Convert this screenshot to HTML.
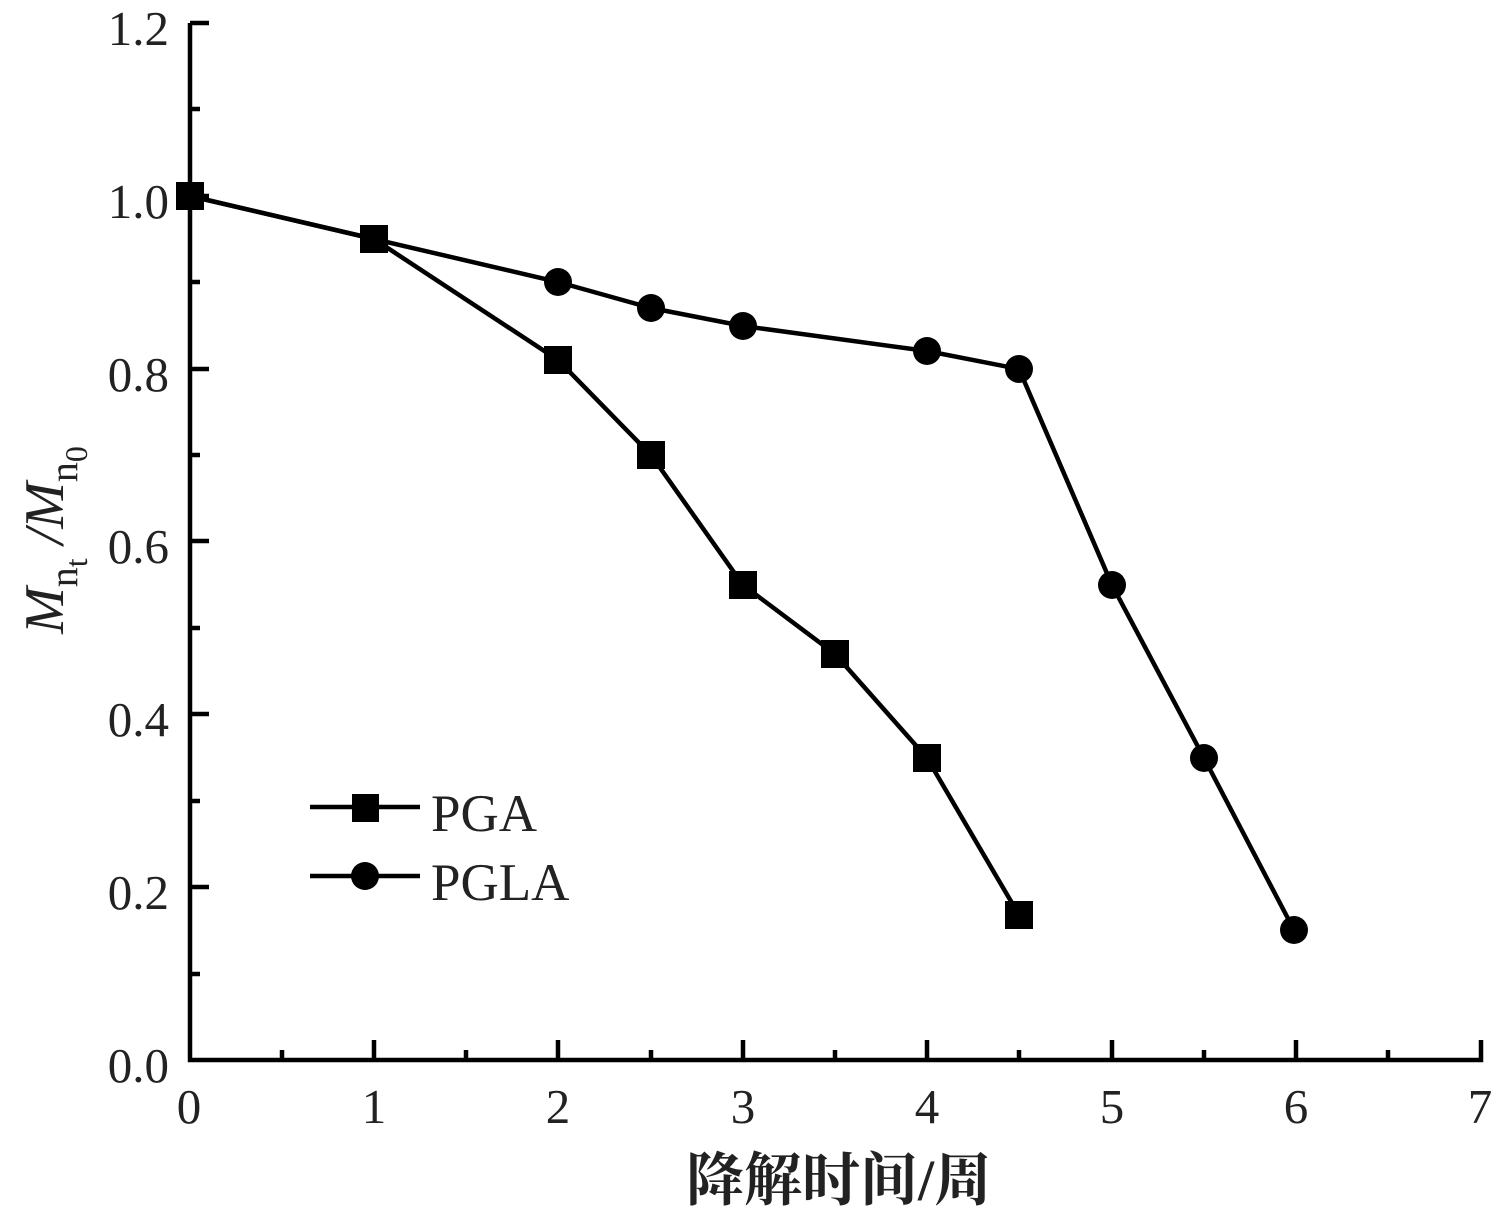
<!DOCTYPE html>
<html><head><meta charset="utf-8"><style>body{margin:0;background:#fff}svg{display:block}</style></head><body>
<svg width="1501" height="1215" xmlns="http://www.w3.org/2000/svg" font-family="'Liberation Serif','Noto Serif CJK SC',serif" fill="#222">
<g stroke="#000" stroke-width="4.5" fill="none">
<path d="M190,23 H209 M190,23 V1060 H1481 V1040"/>
<path d="M190,109 H200 M190,282 H200 M190,455 H200 M190,628 H200 M190,801 H200 M190,974 H200"/>
<path d="M190,196 H209 M190,369 H209 M190,541 H209 M190,714 H209 M190,887 H209"/>
<path d="M374,1060 V1040 M558,1060 V1040 M743,1060 V1040 M927,1060 V1040 M1112,1060 V1040 M1296,1060 V1040"/>
<path d="M282,1060 V1050 M466,1060 V1050 M651,1060 V1050 M835,1060 V1050 M1019,1060 V1050 M1204,1060 V1050 M1388,1060 V1050"/>
</g>
<g font-size="49" text-anchor="end">
<text x="169" y="45">1.2</text><text x="169" y="218">1.0</text><text x="169" y="391">0.8</text><text x="169" y="563">0.6</text><text x="169" y="736">0.4</text><text x="169" y="909">0.2</text><text x="169" y="1082">0.0</text>
</g>
<g font-size="49" text-anchor="middle">
<text x="189" y="1123">0</text><text x="374" y="1123">1</text><text x="558" y="1123">2</text><text x="743" y="1123">3</text><text x="927" y="1123">4</text><text x="1112" y="1123">5</text><text x="1296" y="1123">6</text><text x="1480" y="1123">7</text>
</g>
<text x="839" y="1200" font-size="58" text-anchor="middle" font-weight="bold">降解时间/周</text>
<g transform="translate(63,540) rotate(-90)" font-size="56" font-style="italic" text-anchor="middle">
<text x="0" y="0">M<tspan font-size="40" font-style="normal" dy="14">n</tspan><tspan font-size="32" font-style="normal" dy="10">t</tspan><tspan dy="-24"> /M</tspan><tspan font-size="40" font-style="normal" dy="14">n</tspan><tspan font-size="32" font-style="normal" dy="10">0</tspan></text>
</g>
<g stroke="#000" stroke-width="4.5" fill="none">
<polyline points="190,196 374,239 558,360 651,455 743,585 835,654 927,758 1019,915"/>
<polyline points="190,196 374,239 558,282 651,308 743,326 927,351 1019,369 1112,585 1204,758 1294,930"/>
<path d="M310,807 H420 M310,876 H420"/>
</g>
<g fill="#000">
<rect x="176" y="182" width="28" height="28"/><rect x="360" y="225" width="28" height="28"/><rect x="544" y="346" width="28" height="28"/><rect x="637" y="441" width="28" height="28"/><rect x="729" y="571" width="28" height="28"/><rect x="821" y="640" width="28" height="28"/><rect x="913" y="744" width="28" height="28"/><rect x="1005" y="901" width="28" height="28"/>
<circle cx="558" cy="282" r="14"/><circle cx="651" cy="308" r="14"/><circle cx="743" cy="326" r="14"/><circle cx="927" cy="351" r="14"/><circle cx="1019" cy="369" r="14"/><circle cx="1112" cy="585" r="14"/><circle cx="1204" cy="758" r="14"/><circle cx="1294" cy="930" r="14"/>
<rect x="352" y="794" width="27" height="28"/><circle cx="365" cy="876" r="14"/>
</g>
<g font-size="53"><text x="431" y="831">PGA</text><text x="431" y="900">PGLA</text></g>
</svg>
</body></html>
